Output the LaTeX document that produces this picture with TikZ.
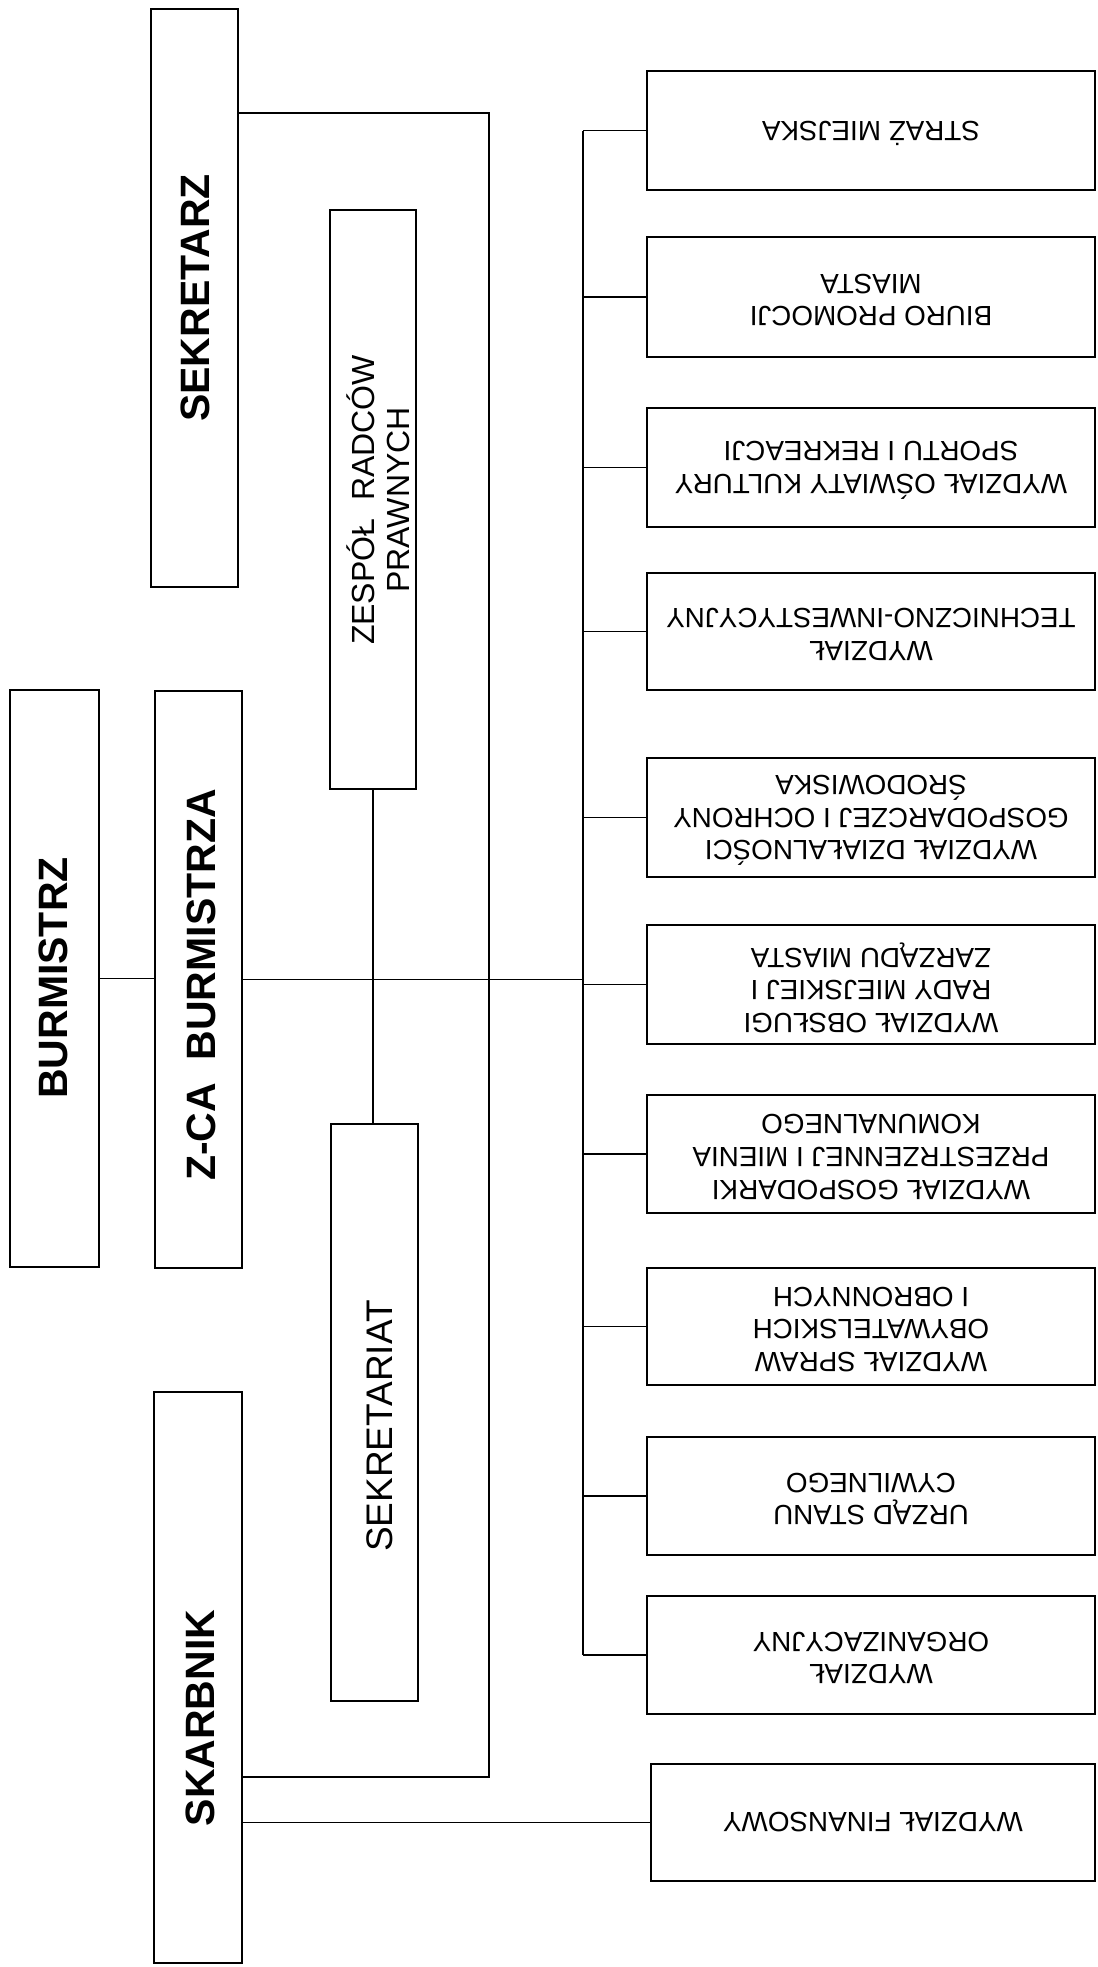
\documentclass[tikz,border=0pt]{standalone}
\usepackage{fontspec}
\setmainfont{Liberation Sans}
\usetikzlibrary{calc}
\begin{document}
\begin{tikzpicture}[x=0.5pt,y=-0.5pt,
  ln/.style={line width=0.8pt},
  bx/.style 2 args={draw, line width=0.8pt, inner sep=0pt, minimum width=#1*0.5pt, minimum height=#2*0.5pt},
  ltext/.style={rotate=90, inner sep=0pt, font=\fontsize{20.5pt}{24pt}\selectfont\bfseries},
  mtext/.style={rotate=90, inner sep=0pt, align=center, font=\fontsize{16pt}{17.5pt}\selectfont},
  rtext/.style={rotate=180, inner sep=0pt, align=center, font=\fontsize{13.9pt}{16.3pt}\selectfont}]
\useasboundingbox (0,0) rectangle (1098,1967);

% left column
\node[bx={89}{577}] (burm) at (54.5,978.5) {};
\node[ltext] (burmT) at (53,978) {BURMISTRZ};
\node[bx={87}{577}] (zca) at (198.5,979.5) {};
\node[ltext] (zcaT) at (201,985) {Z-CA\ \ BURMISTRZA};
\node[bx={87}{578}] (sekz) at (194.5,298) {};
\node[ltext] (sekzT) at (195,298) {SEKRETARZ};
\node[bx={88}{571}] (skarb) at (198,1677.5) {};
\node[ltext] (skarbT) at (200,1718) {SKARBNIK};

% middle column
\node[bx={86}{579}] (zesp) at (373,499.5) {};
\node[mtext] (zespT) at (378,500) {ZESPÓŁ\ \ RADCÓW\\PRAWNYCH};
\node[bx={87}{577}] (sekt) at (374.5,1412.5) {};
\node[mtext, font=\fontsize{18.5pt}{20pt}\selectfont] (sektT) at (380,1426) {SEKRETARIAT};

% helper coordinates
\coordinate (bus) at (583,0);
\coordinate (lt) at (489,113);
\coordinate (lb) at (489,1777);

% right column
\foreach \n/\cy/\h/\t in {
  r1/130.5/119/{STRAŻ MIEJSKA},
  r2/297/120/{BIURO PROMOCJI\\MIASTA},
  r3/467.5/119/{WYDZIAŁ OŚWIATY KULTURY\\SPORTU I REKREACJI},
  r4/631.5/117/{WYDZIAŁ\\TECHNICZNO-INWESTYCYJNY},
  r5/817.5/119/{WYDZIAŁ DZIAŁALNOŚCI\\GOSPODARCZEJ I OCHRONY\\ŚRODOWISKA},
  r6/984.5/119/{WYDZIAŁ OBSŁUGI\\RADY MIEJSKIEJ I\\ZARZĄDU MIASTA},
  r7/1154/118/{WYDZIAŁ GOSPODARKI\\PRZESTRZENNEJ I MIENIA\\KOMUNALNEGO},
  r8/1326.5/117/{WYDZIAŁ SPRAW\\OBYWATELSKICH\\I OBRONNYCH},
  r9/1496/118/{URZĄD STANU\\CYWILNEGO},
  r10/1655/118/{WYDZIAŁ\\ORGANIZACYJNY}}
{
  \node[bx={448}{\h}] (\n) at (871,\cy) {};
  \node[rtext] (\n-t) at ($(\n)+(0,3)$) {\t};
  \draw[ln] (bus |- \n.west) -- (\n.west);
}
\node[bx={444}{117}] (fin) at (873,1822.5) {};
\node[rtext] (finT) at (fin) {WYDZIAŁ FINANSOWY};

% connectors
\draw[ln] (bus |- r1.west) -- (bus |- r10.west);
\draw[ln] (burm.east) -- (burm.east -| zca.west);
\draw[ln] (zca.east) -- (zca.east -| bus);
\draw[ln] (zesp.south) -- (zesp.south |- sekt.north);
\draw[ln] (sekz.east |- lt) -- (lt) -- (lb) -- (skarb.east |- lb);
\draw[ln] (skarb.east |- fin.west) -- (fin.west);
\end{tikzpicture}
\end{document}
